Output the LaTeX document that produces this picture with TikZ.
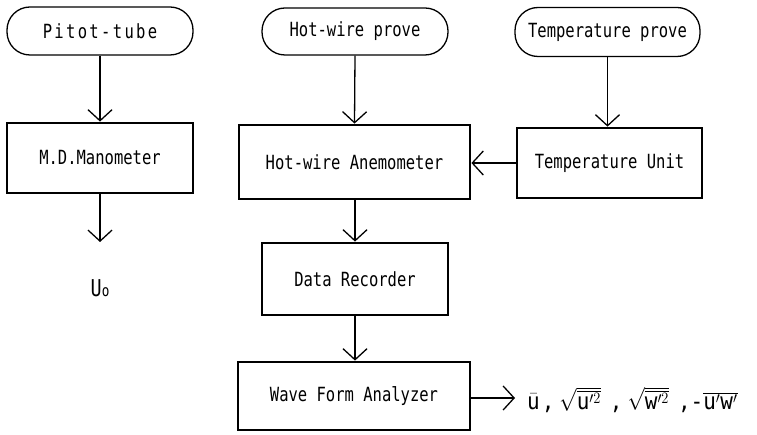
\documentclass[tikz,border=0pt]{standalone}
\usepackage{fontspec}
\usepackage{graphicx}
\setmainfont{DejaVu Sans Mono}
\setmonofont{DejaVu Sans Mono}
\usetikzlibrary{arrows.meta}
\newcommand\tallt[1]{\scalebox{0.97}[1.22]{#1}}
\tikzset{
  pill/.style={draw, line width=1.3pt, rounded corners=23pt, inner sep=0pt, font=\fontsize{16}{18}\selectfont},
  block/.style={draw, line width=2.8pt, inner sep=0pt, font=\fontsize{16}{18}\selectfont},
  flow/.style={line width=1.3pt, -{Straight Barb[length=11pt,width=24pt,line width=1.3pt]}},
}
\begin{document}
\begin{tikzpicture}[x=1pt,y=-1pt]
\useasboundingbox (0,0) rectangle (757,435);
\node[pill, minimum width=186pt, minimum height=48pt] (pitot) at (100,31) {\tallt{\addfontfeature{LetterSpace=15}Pitot-tube}};
\node[pill, minimum width=186pt, minimum height=47pt] (hwp) at (355,31.5) {\tallt{Hot-wire prove}};
\node[pill, minimum width=185pt, minimum height=49pt] (tp) at (607.5,32) {\tallt{Temperature prove}};
\node[block, minimum width=186pt, minimum height=70pt] (mdm) at (100,158) {\tallt{M.D.Manometer}};
\node[block, minimum width=231pt, minimum height=74pt] (hwa) at (354.5,162) {\tallt{Hot-wire Anemometer}};
\node[block, minimum width=185pt, minimum height=70pt] (tu) at (609.5,163) {\tallt{Temperature Unit}};
\node[block, minimum width=186pt, minimum height=72pt] (dr) at (355,279) {\tallt{Data Recorder}};
\node[block, minimum width=232pt, minimum height=68pt] (wfa) at (354,396) {\tallt{Wave Form Analyzer}};
\node[font=\fontsize{19}{21}\selectfont] (u0) at (100,288) {\tallt{U{\fontsize{13}{13}\selectfont o}}};
\node[anchor=west, inner sep=0pt, font=\fontsize{21}{23}\selectfont] (out) at (527,400)
  {\scalebox{1}[1.1]{$\bar{\mbox{u}}$\hspace{2pt},\hspace{5pt}$\sqrt{\overline{\mbox{u}'^{2}}}$\hspace{9pt},\hspace{5pt}$\sqrt{\overline{\mbox{w}'^{2}}}$\hspace{9pt},-$\overline{\mbox{u}'\mbox{w}'}$}};
\coordinate (mdmout) at (100,242);
\coordinate (wfaout) at (515,398);
\draw[flow] (pitot.south) -- (mdm.north);
\draw[flow] (hwp.south) -- (hwa.north);
\draw[flow] (tp.south) -- (tp.south |- tu.north);
\draw[flow] (tu.west) -- (tu.west -| hwa.east);
\draw[flow] (hwa.south -| dr.north) -- (dr.north);
\draw[flow] (dr.south) -- (dr.south |- wfa.north);
\draw[flow] (mdm.south) -- (mdmout);
\draw[flow] (wfa.east |- wfaout) -- (wfaout);
\end{tikzpicture}
\end{document}
